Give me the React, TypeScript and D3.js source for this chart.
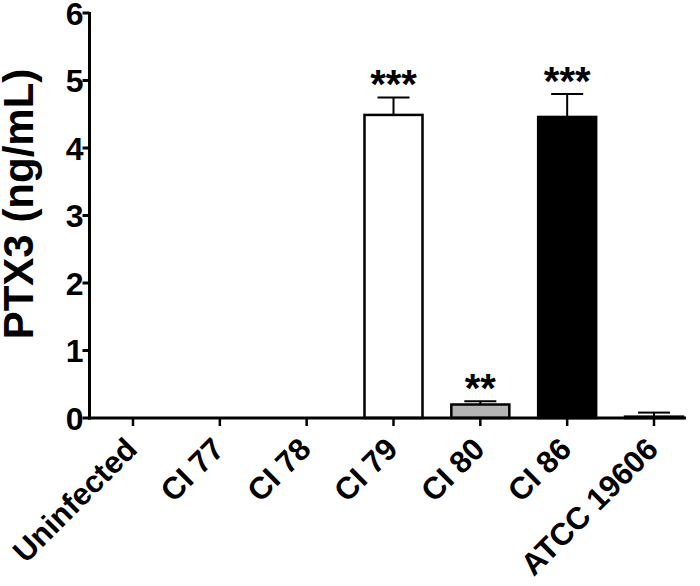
import React from "react";
import * as d3 from "d3";

const categories = ["Uninfected", "CI 77", "CI 78", "CI 79", "CI 80", "CI 86", "ATCC 19606"];
const values = [0, 0, 0, 4.49, 0.2, 4.46, 0.02];
const errors = [0, 0, 0, 0.26, 0.05, 0.34, 0.06];
const fills = ["#ffffff", "#ffffff", "#ffffff", "#ffffff", "#b4b4b4", "#000000", "#ffffff"];
const stars = ["", "", "", "***", "**", "***", ""];
const yTicks = [0, 1, 2, 3, 4, 5, 6];

export default function App() {
  const W = 700, H = 586;
  const x0 = 89.5, x1 = 686;
  const y = d3.scaleLinear().domain([0, 6]).range([418, 13]);
  const x = d3.scalePoint<string>().domain(categories).range([133, 654]);
  const bw = 58;
  const font = "'Liberation Sans', Arial, sans-serif";
  return (
    <svg width={W} height={H} style={{ position: "absolute", left: 0, top: 0 }}>
      <rect width={W} height={H} fill="#fff" />
      {categories.map((c, i) => {
        const cx = x(c)!;
        const v = values[i];
        if (v <= 0) return null;
        const top = y(v);
        const et = y(v + errors[i]);
        return (
          <g key={c}>
            <line x1={cx} x2={cx} y1={top} y2={et} stroke="#000" strokeWidth={2} />
            <line x1={cx - 16} x2={cx + 16} y1={et} y2={et} stroke="#000" strokeWidth={2} />
            <rect x={cx - bw / 2} y={top} width={bw} height={y(0) - top} fill={fills[i]} stroke="#000" strokeWidth={2.5} />
            {stars[i] && (
              <text x={cx} y={et + 1} textAnchor="middle" fontFamily={font} fontWeight="bold" fontSize={40} fill="#000">
                {stars[i]}
              </text>
            )}
          </g>
        );
      })}
      {/* y axis */}
      <line x1={x0} x2={x0} y1={y(6) - 1} y2={y(0) + 1.5} stroke="#000" strokeWidth={3} />
      {yTicks.map((t) => (
        <g key={t}>
          <line x1={x0 - 7} x2={x0} y1={y(t)} y2={y(t)} stroke="#000" strokeWidth={3} />
          <text x={x0 - 6} y={y(t)} dy="0.36em" textAnchor="end" fontFamily={font} fontWeight="bold" fontSize={32} fill="#000">
            {t}
          </text>
        </g>
      ))}
      {/* x axis */}
      <line x1={x0 - 1.5} x2={x1} y1={y(0)} y2={y(0)} stroke="#000" strokeWidth={3} />
      {categories.map((c) => (
        <g key={"t" + c}>
          <line x1={x(c)!} x2={x(c)!} y1={y(0)} y2={y(0) + 8} stroke="#000" strokeWidth={2.5} />
          <text
            transform={`translate(${x(c)! + 6},${y(0) + 33}) rotate(-45)`}
            textAnchor="end"
            fontFamily={font}
            fontWeight="bold"
            fontSize={31}
            fill="#000"
          >
            {c}
          </text>
        </g>
      ))}
      <text
        transform={`translate(33,204) rotate(-90)`}
        textAnchor="middle"
        fontFamily={font}
        fontWeight="bold"
        fontSize={42}
        fill="#000"
      >
        PTX3 (ng/mL)
      </text>
    </svg>
  );
}
